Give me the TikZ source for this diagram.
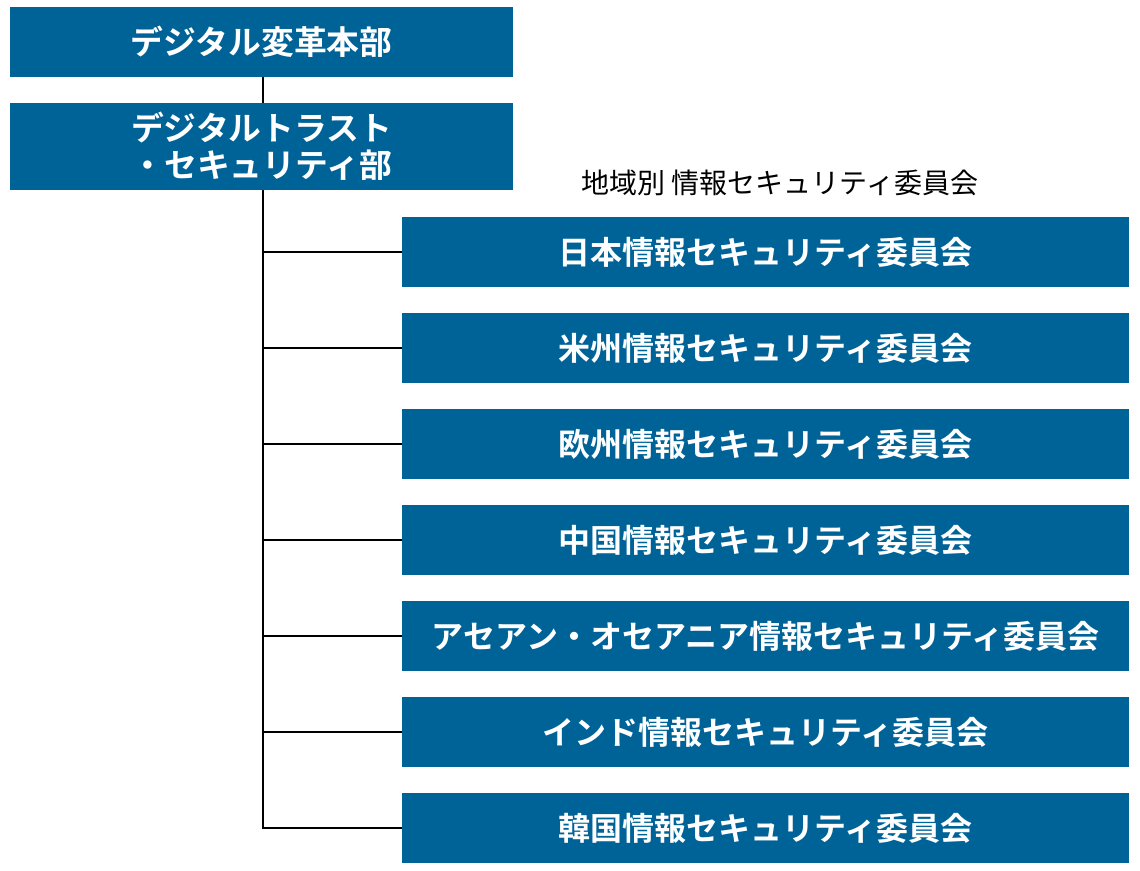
\documentclass[tikz,border=0pt]{standalone}
\usepackage{fontspec}
\setmainfont{Noto Sans CJK JP}[BoldFont={Noto Sans CJK JP Bold}]
\definecolor{boxblue}{RGB}{0,99,152}
\begin{document}
\begin{tikzpicture}[x=1pt,y=-1pt,
  orgbox/.style={fill=boxblue,draw=none,text=white,inner sep=0pt,anchor=north west,
    font=\bfseries\fontsize{32pt}{37pt}\selectfont,align=center},
  topbox/.style={orgbox,minimum width=503pt,font=\bfseries\fontsize{32.8pt}{37pt}\selectfont},
  cbox/.style={orgbox,minimum width=727pt,minimum height=70pt},
  conn/.style={draw=black,line width=2pt}]
\useasboundingbox (0,0) rectangle (1140,870);
\fill[white] (0,0) rectangle (1140,870);
\node[topbox,minimum height=70pt] (hq) at (10,7) {デジタル変革本部};
\node[topbox,minimum height=87pt] (dt) at (10,103) {デジタルトラスト\\・セキュリティ部};
\node[font=\fontsize{28pt}{30pt}\selectfont,anchor=center] (lbl) at (780,183) {地域別 情報セキュリティ委員会};
\node[cbox] (c1) at (402,217) {日本情報セキュリティ委員会};
\node[cbox] (c2) at (402,313) {米州情報セキュリティ委員会};
\node[cbox] (c3) at (402,409) {欧州情報セキュリティ委員会};
\node[cbox] (c4) at (402,505) {中国情報セキュリティ委員会};
\node[cbox] (c5) at (402,601) {アセアン・オセアニア情報セキュリティ委員会};
\node[cbox] (c6) at (402,697) {インド情報セキュリティ委員会};
\node[cbox] (c7) at (402,793) {韓国情報セキュリティ委員会};
\coordinate (sp) at (263,0);
\draw[conn] ([xshift=1pt]hq.south) -- ([xshift=1pt]dt.north);
\draw[conn] ([xshift=1pt]dt.south) |- (c7.west);
\foreach \i in {1,...,6} {
  \draw[conn] (c\i.west) -- (c\i.west -| sp);
}
\end{tikzpicture}
\end{document}
